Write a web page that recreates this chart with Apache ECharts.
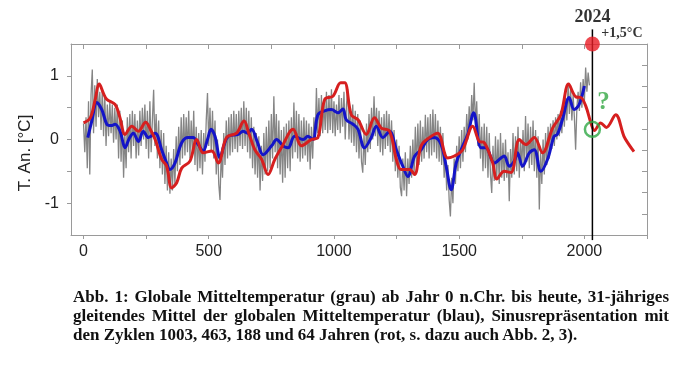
<!DOCTYPE html>
<html><head><meta charset="utf-8">
<script src="https://cdn.jsdelivr.net/npm/echarts@6/dist/echarts.min.js"></script>
<style>
html,body{margin:0;padding:0;background:#fff}
#wrap{position:relative;width:674px;height:389px}
#c{width:674px;height:389px}
#cap{position:absolute;left:73px;top:287px;width:596px;font:bold 17px "Liberation Serif","DejaVu Serif",serif;line-height:19px;color:#111}
#cap div{white-space:normal}
#cap .j{text-align:justify;text-align-last:justify}
</style>
</head><body><div id="wrap"><div id="c"></div><div id="cap"></div></div>
<script>
// ---- data ----
const grayYears = [0,5,10,15,20,25,30,35,40,45,50,55,60,65,70,75,80,85,90,95,
100,105,110,115,120,125,130,135,140,145,150,155,160,165,170,175,180,185,190,195,
200,205,210,215,220,225,230,235,240,245,250,255,260,265,270,275,280,285,290,295,
300,305,310,315,320,325,330,335,340,345,350,355,360,365,370,375,380,385,390,395,
400,405,410,415,420,425,430,435,440,445,450,455,460,465,470,475,480,485,490,495,
500,505,510,515,520,525,530,535,540,545,550,555,560,565,570,575,580,585,590,595,
600,605,610,615,620,625,630,635,640,645,650,655,660,665,670,675,680,685,690,695,
700,705,710,715,720,725,730,735,740,745,750,755,760,765,770,775,780,785,790,795,
800,805,810,815,820,825,830,835,840,845,850,855,860,865,870,875,880,885,890,895,
900,905,910,915,920,925,930,935,940,945,950,955,960,965,970,975,980,985,990,995,
1000,1005,1010,1015,1020,1025,1030,1035,1040,1045,1050,1055,1060,1065,1070,1075,1080,1085,1090,1095,
1100,1105,1110,1115,1120,1125,1130,1135,1140,1145,1150,1155,1160,1165,1170,1175,1180,1185,1190,1195,
1200,1205,1210,1215,1220,1225,1230,1235,1240,1245,1250,1255,1260,1265,1270,1275,1280,1285,1290,1295,
1300,1305,1310,1315,1320,1325,1330,1335,1340,1345,1350,1355,1360,1365,1370,1375,1380,1385,1390,1395,
1400,1405,1410,1415,1420,1425,1430,1435,1440,1445,1450,1455,1460,1465,1470,1475,1480,1485,1490,1495,
1500,1505,1510,1515,1520,1525,1530,1535,1540,1545,1550,1555,1560,1565,1570,1575,1580,1585,1590,1595,
1600,1605,1610,1615,1620,1625,1630,1635,1640,1645,1650,1655,1660,1665,1670,1675,1680,1685,1690,1695,
1700,1705,1710,1715,1720,1725,1730,1735,1740,1745,1750,1755,1760,1765,1770,1775,1780,1785,1790,1795,
1800,1805,1810,1815,1820,1825,1830,1835,1840,1845,1850,1855,1860,1865,1870,1875,1880,1885,1890,1895,
1900,1905,1910,1915,1920,1925,1930,1935,1940,1945,1950,1955,1960,1965,1970,1975,1980,1985,1990,1995,
2000,2005,2010,2015,2020];
const grayValues = [0.25,-0.2,0.35,-0.45,0.6,-0.55,0.7,1.1,0.1,0.85,0.2,0.95,0.35,0.75,0.15,0.8,0.05,0.7,-0.1,0.55,
0.05,0.6,0.1,0.55,-0.05,0.5,0.0,0.55,-0.3,0.45,-0.35,0.3,-0.6,0.1,-0.45,0.35,-0.2,0.4,-0.3,0.45,
-0.1,0.4,-0.3,0.3,-0.25,0.45,-0.1,0.5,0.0,0.55,-0.15,0.45,-0.3,0.6,-0.2,0.3,0.78,-0.1,0.4,-0.3,
0.3,-0.45,0.15,-0.55,0.1,-0.7,-0.1,-0.8,-0.2,-0.85,-0.3,-0.8,-0.15,-0.7,0.05,-0.5,0.2,-0.4,0.35,-0.3,
0.4,-0.25,0.35,-0.2,0.45,-0.3,0.3,-0.25,0.45,-0.4,0.2,-0.5,0.1,-0.45,0.15,-0.55,0.1,-0.35,0.3,0.73,
-0.1,0.5,-0.2,0.45,-0.3,0.3,-0.55,0.0,-0.7,-0.95,-0.2,-0.6,0.1,-0.4,0.3,-0.3,0.35,-0.25,0.4,-0.2,
0.45,-0.15,0.4,-0.2,0.45,-0.1,0.5,-0.15,0.6,-0.1,0.5,-0.2,0.45,-0.3,0.35,-0.45,0.2,-0.55,0.1,-0.6,
0.05,-0.8,-0.1,-0.65,0.1,-0.55,0.2,-0.5,0.3,-0.45,0.4,-0.3,0.68,-0.2,0.4,-0.45,0.3,-0.55,0.15,-0.68,
0.2,-0.6,0.25,-0.45,0.3,-0.5,0.35,-0.3,0.58,-0.2,0.45,-0.3,0.4,-0.35,0.3,-0.3,0.35,-0.25,0.3,-0.35,
0.25,-0.47,0.2,-0.3,0.35,0.0,0.81,0.1,0.65,0.05,0.7,0.1,0.6,0.15,0.75,0.1,0.7,0.15,0.79,0.1,
0.6,0.05,0.55,0.15,0.7,0.1,0.65,0.2,0.75,0.0,0.55,0.79,0.0,0.5,-0.05,0.55,-0.1,0.45,-0.2,0.4,
-0.3,0.3,-0.35,-0.52,0.1,-0.4,0.25,-0.2,0.4,-0.15,0.5,0.0,0.68,0.05,0.5,-0.1,0.45,-0.2,0.35,-0.25,
0.4,-0.15,0.45,-0.1,0.4,-0.2,0.3,-0.35,0.15,-0.5,0.0,-0.6,-0.1,-0.75,-0.89,-0.3,-0.8,-0.2,-0.89,-0.3,
-0.7,-0.1,-0.6,0.0,-0.55,0.2,-0.45,0.25,-0.4,0.3,-0.35,0.2,-0.3,0.39,-0.2,0.35,-0.3,0.4,-0.25,0.47,
-0.2,0.4,-0.3,0.3,-0.35,0.2,-0.4,0.1,-0.6,-0.2,-0.8,-0.4,-0.95,-1.21,-0.6,-1.0,-0.3,-0.7,-0.1,-0.5,
0.05,-0.45,0.15,-0.35,0.2,-0.2,0.4,0.0,0.52,0.15,0.7,0.3,0.89,0.2,0.6,-0.1,0.4,-0.3,0.2,-0.5,
0.25,-0.45,0.2,-0.6,0.1,-0.55,-0.84,-0.1,-0.65,0.05,-0.6,0.0,-0.7,0.1,-0.6,-0.05,-0.65,0.0,-0.6,-0.2,
-0.97,-0.15,-0.6,0.1,-0.55,0.05,-0.5,0.2,-0.6,0.0,-0.45,0.15,-0.5,0.37,-0.35,0.25,-0.45,0.2,-0.4,0.3,
-0.5,0.15,-0.6,0.05,-1.1,-0.2,-0.7,0.0,-0.55,0.1,-0.4,0.2,-0.3,0.25,-0.15,0.3,-0.1,0.35,0.0,0.4,
0.05,0.45,0.1,0.55,0.2,0.65,0.3,0.87,0.4,0.8,0.3,0.7,0.35,-0.16,0.5,0.75,0.45,0.9,0.5,0.95,
0.6,1.13,0.75,1.05,0.85];

const blueYears = [17,33,53,73,93,110,126,146,166,183,199,219,239,259,286,312,330,345,365,392,418,438,458,478,495,509,525,545,560,578,618,637,655,671,695,717,751,771,797,817,843,877,896,916,936,963,990,1016,1036,1049,1076,1096,1122,1149,1169,1195,1222,1249,1275,1295,1322,1348,1375,1401,1428,1448,1468,1488,1508,1534,1558,1587,1607,1640,1667,1680,1700,1720,1733,1753,1780,1800,1826,1853,1879,1892,1912,1939,1959,1979,2000];
const blueValues = [0.03,0.29,0.58,0.47,0.24,0.22,0.24,0.13,-0.13,0.02,0.1,-0.03,0.13,0.03,0.1,-0.16,-0.35,-0.47,-0.37,-0.05,0.03,0.03,-0.08,-0.18,0.0,0.16,0.05,-0.29,-0.1,0.05,0.08,0.13,0.1,0.16,-0.05,-0.24,-0.1,0,-0.1,-0.13,0.05,0,0.05,0,0.39,0.45,0.47,0.42,0.48,0.31,0.24,0.16,-0.13,0.03,0.21,0.03,0.13,-0.16,-0.42,-0.58,-0.26,-0.16,0,0.03,-0.08,-0.42,-0.79,-0.37,-0.16,0.08,0.42,-0.13,-0.13,-0.37,-0.29,-0.26,-0.42,-0.34,-0.21,-0.42,-0.21,-0.16,-0.5,-0.31,0.05,0.08,0.31,0.66,0.47,0.55,0.84];

const redYears = [0,27,45,63,80,93,126,145,166,193,219,248,268,286,312,332,352,372,392,425,452,478,512,538,571,611,641,660,684,711,737,764,790,837,870,910,936,963,996,1027,1043,1069,1096,1129,1162,1189,1222,1249,1268,1302,1322,1348,1381,1414,1454,1481,1514,1554,1580,1600,1634,1650,1680,1707,1740,1766,1800,1833,1873,1906,1937,1966,1986,2006,2026,2040,2065,2088,2125,2158,2178,2198];
const redValues = [0.26,0.34,0.6,0.87,0.72,0.63,0.55,0.35,0.08,0.21,0.13,0.27,0.15,0,-0.31,-0.42,-0.76,-0.68,-0.45,-0.34,0,-0.21,-0.18,-0.37,0.03,0.1,0.29,0.1,-0.16,-0.31,-0.55,-0.31,-0.13,0.16,-0.1,0,0.03,0.63,0.68,0.89,0.89,0.39,0.31,0.08,0.34,0.18,0.13,-0.31,-0.47,-0.47,-0.55,-0.1,0.03,0.1,-0.29,-0.26,-0.16,0.21,-0.03,-0.05,-0.37,-0.62,-0.5,-0.52,0,-0.08,0.03,-0.21,0.18,0.39,0.87,0.67,0.66,0.52,0.26,0.14,0.26,0.19,0.39,0.05,-0.08,-0.19];

const xTicks = [0,250,500,750,1000,1250,1500,1750,2000,2250];
const xLabels = [0,500,1000,1500,2000];
const yTicks = [-1,-0.5,0,0.5,1];
const yLabels = [-1,0,1];
const yRightTicks = [-7/6,-5/6,-0.5,-1/6,1/6,0.5,5/6,7/6];

const markerYear = 2032;      // position of the vertical "2024" line on the axis
const markerTopValue = 1.5;   // +1,5 °C
const markerNowValue = 0.16;  // green circle
const yAxisName = 'T. An. [°C]';
const captionLines = [
  'Abb. 1: Globale Mitteltemperatur (grau) ab Jahr 0 n.Chr. bis heute, 31-jähriges',
  'gleitendes Mittel der globalen Mitteltemperatur (blau), Sinusrepräsentation mit',
  'den Zyklen 1003, 463, 188 und 64 Jahren (rot, s. dazu auch Abb. 2, 3).'
];

// caption (justified paragraph, last line left aligned)
const cap = document.getElementById('cap');
captionLines.forEach((t, i) => {
  const d = document.createElement('div');
  d.textContent = t;
  if (i < captionLines.length - 1) d.className = 'j';
  cap.appendChild(d);
});

const zip = (xs, ys) => xs.map((x, i) => [x, ys[i]]);
const frame = '#9a9a9a';
const serif = '"Liberation Serif", "DejaVu Serif", serif';
const sans = '"Liberation Sans", Arial, sans-serif';

const chart = echarts.init(document.getElementById('c'));
chart.setOption({
  animation: false,
  grid: {left: 71, right: 27, top: 44, bottom: 154, show: false},
  xAxis: [
    {type: 'value', position: 'bottom', min: -50, max: 2250,
     axisLine: {show: true, onZero: false, lineStyle: {color: frame, width: 1}},
     axisTick: {show: true, inside: false, length: 4, customValues: xTicks, lineStyle: {color: frame}},
     axisLabel: {customValues: xLabels, formatter: v => String(v), color: '#222', fontSize: 16, fontFamily: sans, margin: 9},
     splitLine: {show: false}},
    {type: 'value', position: 'top', min: -50, max: 2250,
     axisLine: {show: true, onZero: false, lineStyle: {color: frame, width: 1}},
     axisTick: {show: true, inside: true, length: 5, customValues: xTicks, lineStyle: {color: frame}},
     axisLabel: {show: false}, splitLine: {show: false}}
  ],
  yAxis: [
    {type: 'value', position: 'left', min: -1.5, max: 1.5,
     axisLine: {show: true, onZero: false, lineStyle: {color: frame, width: 1}},
     axisTick: {show: true, inside: false, length: 4, customValues: yTicks, lineStyle: {color: frame}},
     axisLabel: {customValues: yLabels, formatter: v => String(v), color: '#222', fontSize: 16, fontFamily: sans, margin: 12},
     splitLine: {show: false}},
    {type: 'value', position: 'right', min: -1.5, max: 1.5,
     axisLine: {show: true, onZero: false, lineStyle: {color: frame, width: 1}},
     axisTick: {show: true, inside: true, length: 5, customValues: yRightTicks, lineStyle: {color: frame}},
     axisLabel: {show: false}, splitLine: {show: false}}
  ],
  series: [
    {type: 'line', name: 'grau', data: zip(grayYears, grayValues), showSymbol: false, z: 1,
     lineStyle: {color: '#858585', width: 1.3}},
    {type: 'line', name: 'blau', data: zip(blueYears, blueValues), showSymbol: false, smooth: 0.35, z: 3,
     lineStyle: {color: '#1414c8', width: 3}},
    {type: 'line', name: 'rot', data: zip(redYears, redValues), showSymbol: false, smooth: 0.35, z: 4,
     lineStyle: {color: '#d61f1f', width: 3}},
    {type: 'line', name: 'jetzt', data: [[markerYear, -1.58], [markerYear, 1.73]], showSymbol: false, clip: false, z: 5,
     lineStyle: {color: '#000', width: 1.5}},
    {type: 'scatter', data: [[markerYear, markerTopValue]], symbolSize: 15, clip: false, z: 10,
     itemStyle: {color: '#e81c24'}},
    {type: 'scatter', data: [[markerYear, markerNowValue]], symbolSize: 15, clip: false, z: 10,
     itemStyle: {color: 'rgba(0,0,0,0)', borderColor: '#2fa845', borderWidth: 2.5}},
    {type: 'scatter', symbolSize: 0, clip: false, z: 11, silent: true,
     data: [
       {value: [markerYear, 1.92], label: {show: true, position: 'inside', formatter: '2024', color: '#000', fontSize: 18, fontWeight: 'bold', fontFamily: serif}},
       {value: [2150, 1.67], label: {show: true, position: 'inside', formatter: '+1,5°C', color: '#000', fontSize: 14, fontWeight: 'bold', fontFamily: serif}},
       {value: [2076, 0.58], label: {show: true, position: 'inside', formatter: '?', color: '#34a844', fontSize: 25, fontWeight: 'bold', fontFamily: serif}}
     ]}
  ],
  graphic: [
    {type: 'text', x: 25, y: 153, rotation: Math.PI / 2,
     style: {text: yAxisName, fill: '#222', font: '17px ' + sans, align: 'center', verticalAlign: 'middle'}}
  ]
});
</script></body></html>
